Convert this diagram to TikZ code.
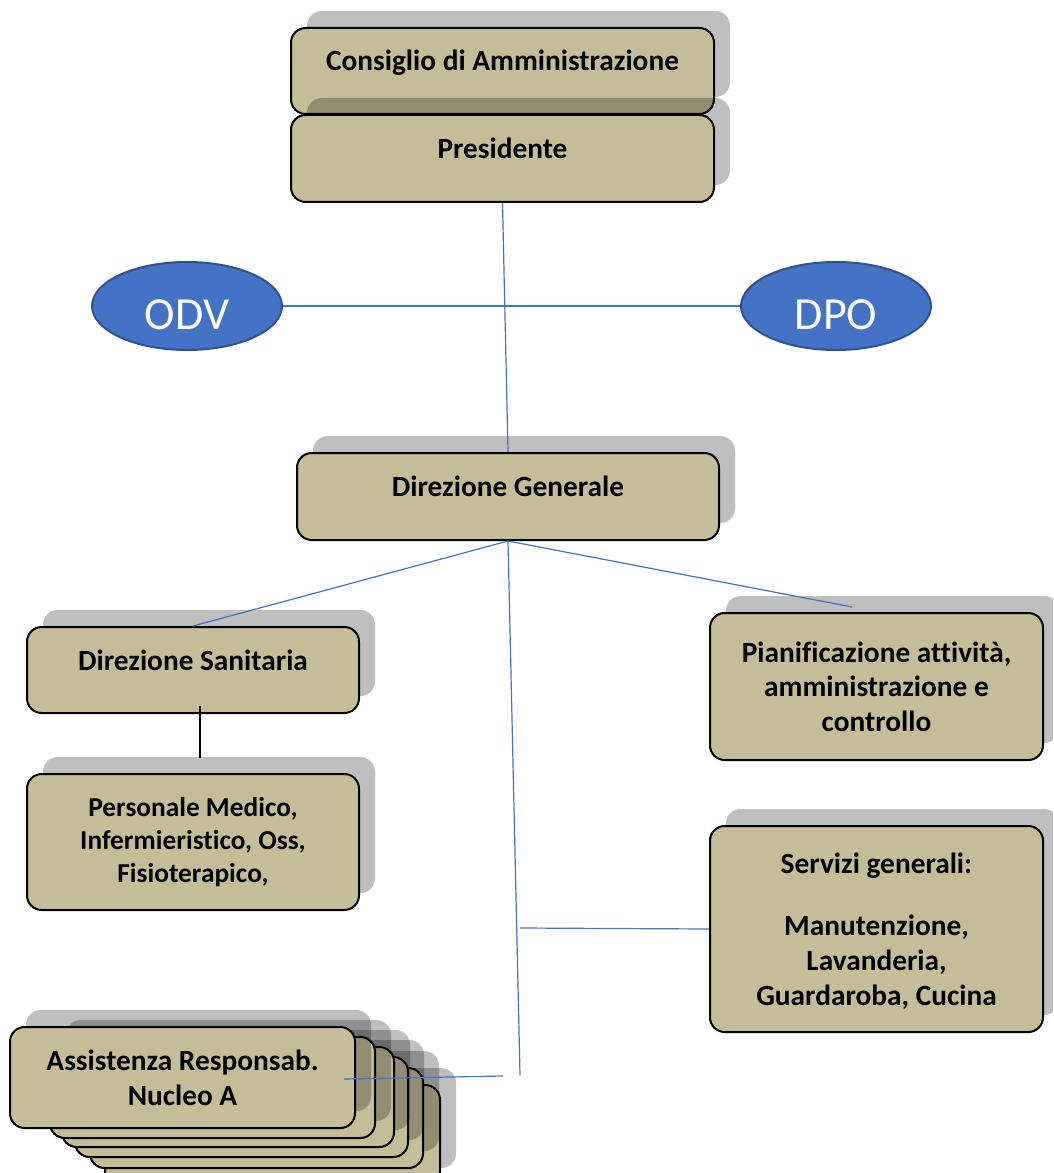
\documentclass[tikz,border=0pt]{standalone}
\usepackage{fontspec}
\setmainfont{Carlito}[Ligatures=NoCommon]
\usetikzlibrary{shapes.geometric,shadows}
\definecolor{tanfill}{HTML}{C4BD97}
\definecolor{linkblue}{HTML}{4472C4}
\definecolor{elldraw}{HTML}{2F528F}
\begin{document}
\begin{tikzpicture}[x=0.75pt,y=-0.75pt,
  box/.style={draw=black, line width=1.5pt, fill=tanfill, rounded corners=11pt,
    align=center, inner sep=0pt,
    font=\bfseries\fontsize{22}{26}\selectfont,
    drop shadow={shadow xshift=12pt, shadow yshift=12.75pt, fill=black, opacity=0.25}},
  hdr/.style={box, text height=15pt, text depth=15pt},
  small/.style={font=\bfseries\fontsize{20.5}{24.5}\selectfont},
  oval/.style={ellipse, draw=elldraw, line width=1.5pt, fill=linkblue, inner sep=0pt,
    text=white, font=\fontsize{34.5}{36}\selectfont, text height=35pt, text depth=0pt,
    minimum width=142.5pt, minimum height=66pt},
  link/.style={draw=linkblue, line width=0.9pt},
  blink/.style={draw=black, line width=1.2pt}]
\useasboundingbox (0,0) rectangle (1053,1173);
\clip (0,0) rectangle (1053,1173);

% top boxes
\node[hdr, minimum width=317.25pt, minimum height=64.5pt] (cda) at (502.5,71) {Consiglio di Amministrazione};
\node[hdr, minimum width=317.25pt, minimum height=65.25pt] (pres) at (502.5,158.5) {Presidente};

% ovals
\node[oval] (odv) at (187,306) {ODV};
\node[oval] (dpo) at (836,306) {DPO};

% direzione generale
\node[hdr, minimum width=316.5pt, minimum height=65.25pt] (dg) at (508,496.5) {Direzione Generale};

% left column
\node[hdr, minimum width=249pt, minimum height=64.5pt] (ds) at (193,670) {Direzione Sanitaria};
\node[box, small, minimum width=249pt, minimum height=102pt] (pers) at (193,842) {Personale Medico,\\Infermieristico, Oss,\\Fisioterapico,};

% right column
\node[box, minimum width=249.75pt, minimum height=110.25pt] (pia) at (876.5,686.5) {Pianificazione attività,\\amministrazione e\\controllo};
\node[box, minimum width=249.75pt, minimum height=154.5pt, text depth=-6pt] (serv) at (876.5,929) {Servizi generali:\\[21pt]Manutenzione,\\Lavanderia,\\Guardaroba, Cucina};

% stacked boxes
\node[box, minimum width=251.25pt, minimum height=75pt] (nf) at (272.5,1135) {};
\node[box, minimum width=249.75pt, minimum height=75pt] (ne) at (256.5,1118) {};
\node[box, minimum width=249.75pt, minimum height=75pt] (nd) at (241.5,1107) {};
\node[box, minimum width=249pt, minimum height=75pt] (nc) at (228,1097) {};
\node[box, minimum width=243.75pt, minimum height=75.75pt] (nb) at (212.5,1087.5) {};
\node[box, minimum width=258.75pt, minimum height=75.75pt] (na) at (182.5,1077.5) {Assistenza Responsab.\\Nucleo A};

% connector endpoints
\coordinate (piaend) at (852,607);
\coordinate (vend) at (520,1075);
\coordinate (vserv) at (520,928);
\coordinate (nstart) at (503,1076);
\coordinate (nend) at (344,1079);
\coordinate (dsa) at (200,706);
\coordinate (dsb) at (200,758);

% connectors
\draw[link] (pres.south) -- (dg.north);
\draw[link] (odv.east) -- (dpo.west);
\draw[link] (dg.south) -- (ds.north);
\draw[link] (dg.south) -- (piaend);
\draw[link] (dg.south) -- (vend);
\draw[link] (vserv) -- (serv.west);
\draw[link] (nstart) -- (nend);
\draw[blink] (dsa) -- (dsb);
\end{tikzpicture}
\end{document}
